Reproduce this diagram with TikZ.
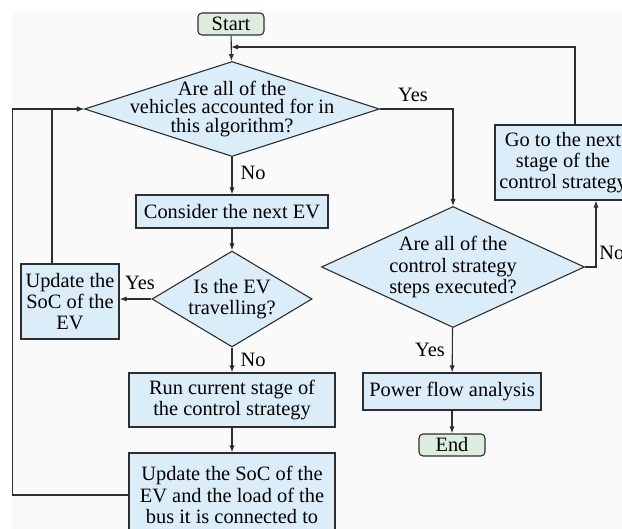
\documentclass[tikz,border=0pt]{standalone}
\usepackage{fontspec}
\setmainfont{Liberation Serif}
\usepackage{tikz}
\usetikzlibrary{positioning,arrows.meta,calc,shapes.geometric}
\definecolor{boxblue}{HTML}{DCEDFA}
\definecolor{termgreen}{HTML}{DDEDDF}
\definecolor{edgegray}{HTML}{2E2E2E}
\definecolor{panel}{HTML}{FAFAFA}
\tikzset{
  base/.style={draw=edgegray,line width=0.55pt,font=\fontsize{10.2}{10.6}\selectfont,align=center,inner sep=0pt},
  proc/.style={base,rectangle,fill=boxblue},
  term/.style={base,rectangle,rounded corners=2pt,fill=termgreen,minimum width=33pt,minimum height=11pt},
  decide/.style={base,diamond,fill=boxblue,inner ysep=-30pt},
  arr/.style={-{Latex[length=3.5pt,width=2.6pt]},line width=0.55pt,edgegray},
  tag/.style={font=\fontsize{10.2}{10.6}\selectfont,inner sep=0pt}
}
\begin{document}
\begin{tikzpicture}[x=0.5pt,y=-0.5pt]
  \clip (0,0) rectangle (622,529);
  \fill[white] (0,0) rectangle (622,529);
  \fill[panel] (12,12) rectangle (622,529);
  % left column
  \node[term] (start) at (231,24){Start};
  \node[decide,aspect=3.1,minimum width=147.5pt,minimum height=47.5pt,font=\fontsize{10.2}{9.4}\selectfont] (q1) at (232,109){Are all of the\\vehicles accounted for in\\this algorithm?};
  \node[proc,minimum width=96pt,minimum height=16.5pt] (next) at (232,211.5){Consider the next EV};
  \node[decide,aspect=1.67,minimum width=80pt,minimum height=48pt] (q2) at (232,299){Is the EV\\travelling?};
  \node[proc,minimum width=49pt,minimum height=37.5pt] (soc) at (70,301.5){Update the\\SoC of the\\EV};
  \node[proc,minimum width=103pt,minimum height=27pt] (run) at (232,400){Run current stage of\\the control strategy};
  \node[proc,minimum width=103pt,minimum height=42pt] (upd) at (232,495){Update the SoC of the\\EV and the load of the\\bus it is connected to};
  % right column
  \node[decide,aspect=2.17,minimum width=131.5pt,minimum height=60.5pt] (q3) at (453,267){Are all of the\\control strategy\\steps executed?};
  \node[proc,minimum width=68pt,minimum height=37.5pt] (stage) at (563,162.5){Go to the next\\stage of the\\control strategy};
  \node[proc,minimum width=89pt,minimum height=18.5pt] (pfa) at (452,391.5){Power flow analysis};
  \node[term] (end) at (452,445){End};
  \coordinate (join) at (231,47);
  % connectors
  \draw[arr] (start) -- (q1);
  \draw[arr] ([xshift=6pt]stage.north) |- (join);
  \draw[arr] (q1.east) -| (q3.north);
  \node[tag] at (413,95){Yes};
  \draw[arr] (q1) -- (next);
  \node[tag] at (253,173){No};
  \draw[arr] (next) -- (q2);
  \draw[arr] (q2.west) -- (q2.west -| soc.east);
  \node[tag] at (140,283){Yes};
  \draw[arr] ([xshift=-9pt]soc.north) |- (q1.west);
  \draw[arr] (q2) -- (run);
  \node[tag] at (253,360){No};
  \draw[arr] (run) -- (upd);
  \draw[arr] (upd.west) -- ++(-116,0) |- (q1.west);
  \draw[arr] (q3) -- (pfa);
  \node[tag] at (430,350){Yes};
  \draw[arr] (pfa) -- (end);
  \draw[arr] (q3.east) -| ([xshift=16.5pt]stage.south);
  \node[tag,anchor=west] at (599,253){No};
\end{tikzpicture}
\end{document}
